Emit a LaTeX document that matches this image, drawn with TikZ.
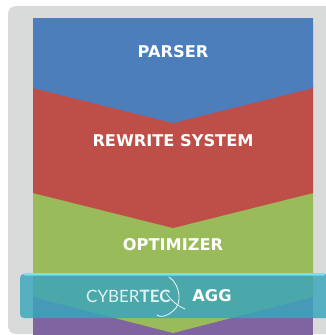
\documentclass[tikz,border=0pt]{standalone}
\usepackage{fontspec}
\setmainfont{DejaVu Sans}
\newfontfamily\thinfont{Lato}
\definecolor{panelgray}{HTML}{D9DADA}
\definecolor{pblue}{HTML}{4D7EBC}
\definecolor{pred}{HTML}{BE4F48}
\definecolor{pgreen}{HTML}{9ABB59}
\definecolor{ppurple}{HTML}{8064A2}
\definecolor{bandteal}{HTML}{3AA5BC}
\definecolor{bandtop}{HTML}{7FDDE8}
\tikzset{
  layertext/.style={text=white,font=\bfseries\fontsize{16.2}{18}\selectfont,inner sep=0pt},
  swoosh/.style={draw=white!90!bandteal,line width=0.8pt,line cap=round}
}
\begin{document}
\begin{tikzpicture}[x=1pt,y=-1pt]
\useasboundingbox (0,0) rectangle (325,335);
\fill[white] (0,0) rectangle (325,335);
\fill[panelgray,rounded corners=8pt] (8,6) rectangle (345,334);
\fill[ppurple] (33,290) rectangle (313,335);
\fill[pgreen] (33,190) -- (313,190) -- (313,297) -- (173,333) -- (33,297) -- cycle;
\fill[pred] (33,85) -- (313,85) -- (313,193) -- (173,228) -- (33,193) -- cycle;
\fill[pblue] (33,18) -- (313,18) -- (313,88) -- (173,123) -- (33,88) -- cycle;
\node[layertext] (parser) at (173,52) {PARSER};
\node[layertext] (rewrite) at (173,141) {REWRITE SYSTEM};
\node[layertext] (optimizer) at (173,245) {OPTIMIZER};
\fill[bandteal,fill opacity=0.82,rounded corners=4pt] (20,274) rectangle (345,318);
\fill[bandtop,rounded corners=1pt] (24,273) rectangle (325,275.5);
\node[text=white!85!bandteal,font=\thinfont\fontsize{17}{18}\selectfont,inner sep=0pt,anchor=west] (logo) at (86,296) {CYBER\textbf{TEC}};
\draw[swoosh] (169,277) .. controls (180,284) and (183,304) .. (173,311) .. controls (168,316) and (160,318) .. (157,315);
\draw[swoosh] (166,293) .. controls (171,300) and (176,305) .. (185,309);
\node[layertext] (agg) at (212,296) {AGG};
\end{tikzpicture}
\end{document}
